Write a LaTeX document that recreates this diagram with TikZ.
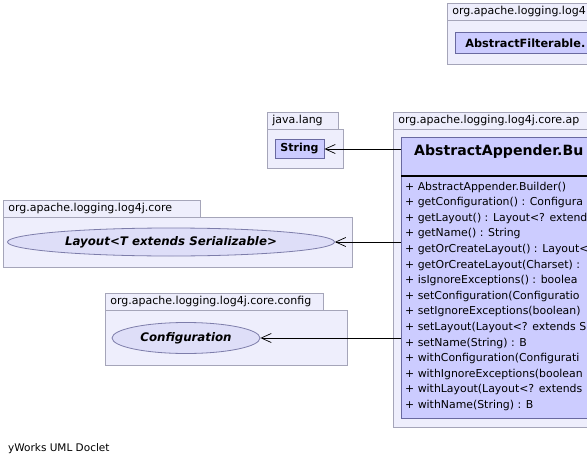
\documentclass[tikz,border=0pt]{standalone}
\usepackage{fontspec}
\setmainfont{DejaVu Sans}
\usetikzlibrary{arrows.meta,shapes.geometric,positioning}
\definecolor{pkgfill}{RGB}{238,238,252}
\definecolor{pkgline}{RGB}{165,165,185}
\definecolor{clsfill}{RGB}{204,204,255}
\definecolor{clsline}{RGB}{105,105,160}
\definecolor{ifcfill}{RGB}{222,222,248}
\definecolor{ifcline}{RGB}{125,125,170}
\tikzset{
  pkgbody/.style={draw=pkgline,fill=pkgfill,line width=0.8pt},
  pkgtab/.style={draw=pkgline,fill=pkgfill,line width=0.8pt,anchor=north west,
    inner xsep=5pt,inner ysep=0pt,minimum height=17pt,text width=#1,align=left,
    font=\fontsize{11}{13}\selectfont},
  clsbox/.style={draw=clsline,fill=clsfill,line width=0.8pt,inner sep=0pt},
  ifc/.style={ellipse,draw=ifcline,fill=ifcfill,line width=0.8pt,inner sep=0pt,
    font=\fontsize{11.8}{14}\selectfont\bfseries\itshape},
  member/.style={anchor=west,inner sep=0pt,font=\fontsize{10.9}{13}\selectfont},
  dep/.style={thin,black,-{Straight Barb[length=10pt,width=9pt,line width=0.7pt]}}
}
\begin{document}
\begin{tikzpicture}[x=1pt,y=-1pt]
  \useasboundingbox (0,0) rectangle (587,466);
  \clip (0,0) rectangle (587,466);
  % top right package
  \draw[pkgbody] (447,20) rectangle (600,64);
  \node[pkgtab=150pt] (filtertab) at (447,3) {org.apache.logging.log4};
  \node[clsbox,anchor=north west,minimum height=21pt,text width=150pt,inner xsep=10pt,
    align=left,font=\fontsize{11.3}{13}\selectfont\bfseries] (filterable) at (455,32) {AbstractFilterable.};
  % java.lang
  \draw[pkgbody] (267,129) rectangle (343,168);
  \node[pkgtab=61pt] (langtab) at (267,112) {java.lang};
  \node[clsbox,minimum width=49pt,minimum height=19pt,font=\fontsize{11}{13}\selectfont\bfseries]
    (string) at (299.5,149) {String};
  % appender package
  \draw[pkgbody] (393,129) rectangle (600,427);
  \node[pkgtab=200pt] (apptab) at (393,112) {org.apache.logging.log4j.core.ap};
  \node[clsbox,anchor=north west,minimum width=200pt,minimum height=281pt] (builder) at (401,137) {};
  \node[anchor=west,inner sep=0pt,font=\fontsize{14.1}{16}\selectfont\bfseries] (title) at (414,152) {AbstractAppender.Bu};
  \draw[line width=1.5pt] (401,176) -- (600,176);
  \foreach \m [count=\i from 0] in {{AbstractAppender.Builder()},{getConfiguration() : Configura},
      {getLayout() : Layout<? extend},{getName() : String},{getOrCreateLayout() : Layout<},
      {getOrCreateLayout(Charset) :},{isIgnoreExceptions() : boolea},{setConfiguration(Configuratio},
      {setIgnoreExceptions(boolean)},{setLayout(Layout<? extends S},{setName(String) : B},
      {withConfiguration(Configurati},{withIgnoreExceptions(boolean},{withLayout(Layout<? extends},
      {withName(String) : B}}
    \node[member] (m\i) at (405,187+15.6*\i) {+ \m};
  % core package
  \draw[pkgbody] (3,217) rectangle (352,267);
  \node[pkgtab=187pt] (coretab) at (3,200) {org.apache.logging.log4j.core};
  \node[ifc,minimum width=327pt,minimum height=28pt] (layout) at (171,242) {Layout<T extends Serializable>};
  % config package
  \draw[pkgbody] (105,310) rectangle (347,365);
  \node[pkgtab=208pt] (configtab) at (105,293) {org.apache.logging.log4j.core.config};
  \node[ifc,minimum width=148pt,minimum height=31pt] (configuration) at (186,338) {Configuration};
  % dependencies
  \draw[dep] (builder.west |- string.east) -- (string.east);
  \draw[dep] (builder.west |- layout.east) -- (layout.east);
  \draw[dep] (builder.west |- configuration.east) -- (configuration.east);
  \node[anchor=west,inner sep=0pt,font=\fontsize{10.5}{12}\selectfont] (doclet) at (8,449) {yWorks UML Doclet};
\end{tikzpicture}
\end{document}
